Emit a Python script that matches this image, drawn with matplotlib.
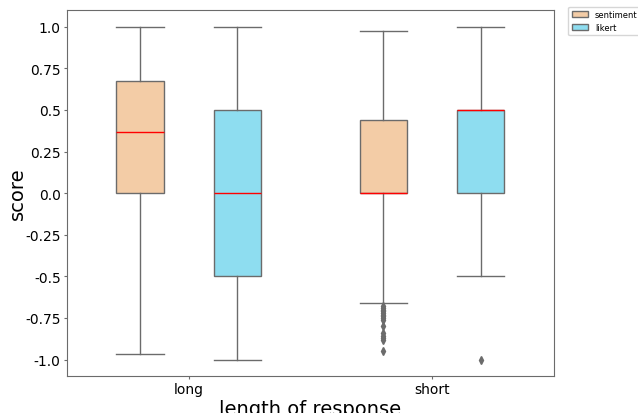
import matplotlib
matplotlib.use("Agg")
import matplotlib.pyplot as plt
from matplotlib.patches import Patch

groups = ["long", "short"]
hues = ["sentiment", "likert"]
colours = ["#F3CCA6", "#8EDDF0"]

# box statistics: [long, short]
sent_q1 = [0.0, 0.0]
sent_med = [0.365, 0.0]
sent_q3 = [0.675, 0.44]
sent_lo = [-0.965, -0.66]
sent_hi = [1.0, 0.975]
sent_fliers = [[], [-0.68, -0.69, -0.70, -0.71, -0.72, -0.73, -0.74, -0.75,
                    -0.76, -0.80, -0.84, -0.86, -0.87, -0.88, -0.95]]

lik_q1 = [-0.5, 0.0]
lik_med = [0.0, 0.5]
lik_q3 = [0.5, 0.5]
lik_lo = [-1.0, -0.5]
lik_hi = [1.0, 1.0]
lik_fliers = [[], [-1.0]]

yticks = [1.0, 0.75, 0.5, 0.25, 0.0, -0.25, -0.5, -0.75, -1.0]
ytick_labels = ["1.0", "0.75", "0.5", "0.25", "0.0", "-0.25", "-0.5", "-0.75", "-1.0"]


def make_stats(q1, med, q3, lo, hi, fl):
    return [dict(q1=q1[i], med=med[i], q3=q3[i], whislo=lo[i], whishi=hi[i],
                 fliers=fl[i]) for i in range(len(q1))]


fig = plt.figure(figsize=(6.38, 4.14), dpi=100)
ax = fig.add_axes([0.105, 0.089, 0.763, 0.884])

grey = "#6b6b6b"
series = [make_stats(sent_q1, sent_med, sent_q3, sent_lo, sent_hi, sent_fliers),
          make_stats(lik_q1, lik_med, lik_q3, lik_lo, lik_hi, lik_fliers)]
offsets = [-0.2, 0.2]
for stats, off, col in zip(series, offsets, colours):
    pos = [i + off for i in range(len(groups))]
    ax.bxp(stats, positions=pos, widths=0.195, patch_artist=True,
           boxprops=dict(facecolor=col, edgecolor=grey, linewidth=1),
           whiskerprops=dict(color=grey, linewidth=1),
           capprops=dict(color=grey, linewidth=1),
           medianprops=dict(color="red", linewidth=1),
           flierprops=dict(marker="d", markerfacecolor=grey,
                           markeredgecolor=grey, markersize=4),
           capwidths=0.195)

ax.set_xlim(-0.5, 1.5)
ax.set_ylim(-1.1, 1.1)
ax.set_xticks(range(len(groups)))
ax.set_xticklabels(groups, fontsize=10)
ax.set_yticks(yticks)
ax.set_yticklabels(ytick_labels, fontsize=10)
ax.tick_params(length=2.5, pad=2, color=grey)
ax.set_ylabel("score", fontsize=14)
ax.yaxis.set_label_coords(-0.082, 0.5)
ax.set_xlabel("length of response", fontsize=14, labelpad=2)
for s in ax.spines.values():
    s.set_color(grey)

handles = [Patch(facecolor=c, edgecolor=grey, label=h) for h, c in zip(hues, colours)]
ax.legend(handles=handles, loc="upper left", bbox_to_anchor=(1.03, 1.01),
          fontsize=6, borderaxespad=0)

fig.savefig("out.png", dpi=100)
